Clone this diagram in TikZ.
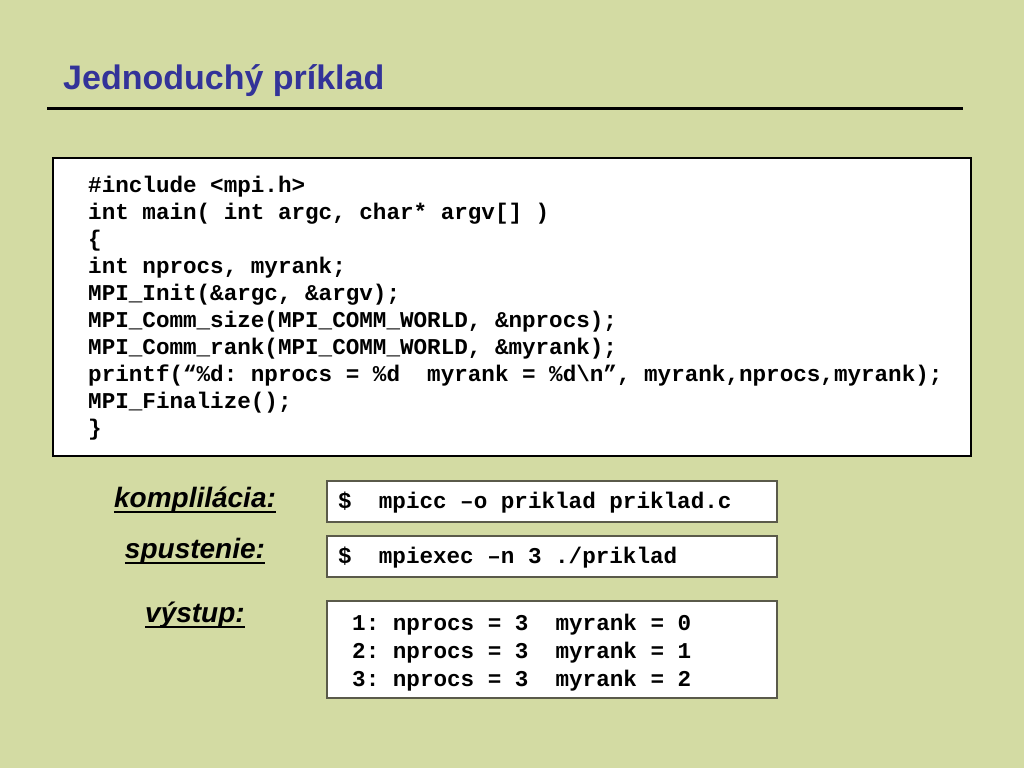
\documentclass[tikz,border=0pt]{standalone}
\usepackage{fontspec}
\setmainfont{Liberation Sans}
\newfontfamily\codefont{Liberation Mono}
\definecolor{bg}{HTML}{D3DBA3}
\definecolor{titleblue}{HTML}{333399}
\definecolor{boxgray}{HTML}{5A5A4A}
\frenchspacing
\begin{document}
\begin{tikzpicture}[x=1pt,y=-1pt,
  code/.style={anchor=base west,inner sep=0pt,font=\codefont\bfseries\frenchspacing\fontsize{22.6}{27}\selectfont},
  lbl/.style={anchor=base,inner sep=0pt,font=\bfseries\itshape\fontsize{28}{32}\selectfont},
  uline/.style={line width=1.8pt},
  cmdbox/.style={draw=boxgray,line width=1.3pt,fill=white},
  bigbox/.style={draw=black,line width=1.3pt,fill=white}]
\fill[bg] (0,0) rectangle (1024,768);
\useasboundingbox (0,0) rectangle (1024,768);
% title
\node[anchor=base west,inner sep=0pt,text=titleblue,font=\bfseries\fontsize{34}{40}\selectfont] (title) at (63,89.5) {Jednoduchý príklad};
\draw[line width=3pt] (47,108) coordinate (ruleL) -- (963,108) coordinate (ruleR);
% code box
\draw[bigbox] (53,158) rectangle (971,456);
\node[code] (c1) at (88,192) {\#include <mpi.h>};
\node[code] (c2) at (88,219) {int main( int argc, char* argv[] )};
\node[code] (c3) at (88,246) {\{};
\node[code] (c4) at (88,273) {int nprocs, myrank;};
\node[code] (c5) at (88,300) {MPI\_Init(\&argc, \&argv);};
\node[code] (c6) at (88,327) {MPI\_Comm\_size(MPI\_COMM\_WORLD, \&nprocs);};
\node[code] (c7) at (88,354) {MPI\_Comm\_rank(MPI\_COMM\_WORLD, \&myrank);};
\node[code] (c8) at (88,381) {printf(“\%d: nprocs = \%d\ \ myrank = \%d\textbackslash n”, myrank,nprocs,myrank);};
\node[code] (c9) at (88,408) {MPI\_Finalize();};
\node[code] (c10) at (88,435) {\}};
% labels
\node[lbl] (l1) at (195,507) {komplilácia:};
\node[lbl] (l2) at (195,558) {spustenie:};
\node[lbl] (l3) at (195,622) {výstup:};
\draw[uline] ([yshift=-5pt]l1.base west) -- ([yshift=-5pt]l1.base east);
\draw[uline] ([yshift=-5pt]l2.base west) -- ([yshift=-5pt]l2.base east);
\draw[uline] ([yshift=-5pt]l3.base west) -- ([yshift=-5pt]l3.base east);
% command boxes
\draw[cmdbox] (327,481) rectangle (777,522);
\draw[cmdbox] (327,536) rectangle (777,577);
\draw[cmdbox] (327,601) rectangle (777,698);
\node[code] (b1) at (338,508.5) {\$\ \ mpicc –o priklad priklad.c};
\node[code] (b2) at (338,563.5) {\$\ \ mpiexec –n 3 ./priklad};
\node[code] (o1) at (352,630) {1: nprocs = 3\ \ myrank = 0};
\node[code] (o2) at (352,658) {2: nprocs = 3\ \ myrank = 1};
\node[code] (o3) at (352,686) {3: nprocs = 3\ \ myrank = 2};
\end{tikzpicture}
\end{document}
